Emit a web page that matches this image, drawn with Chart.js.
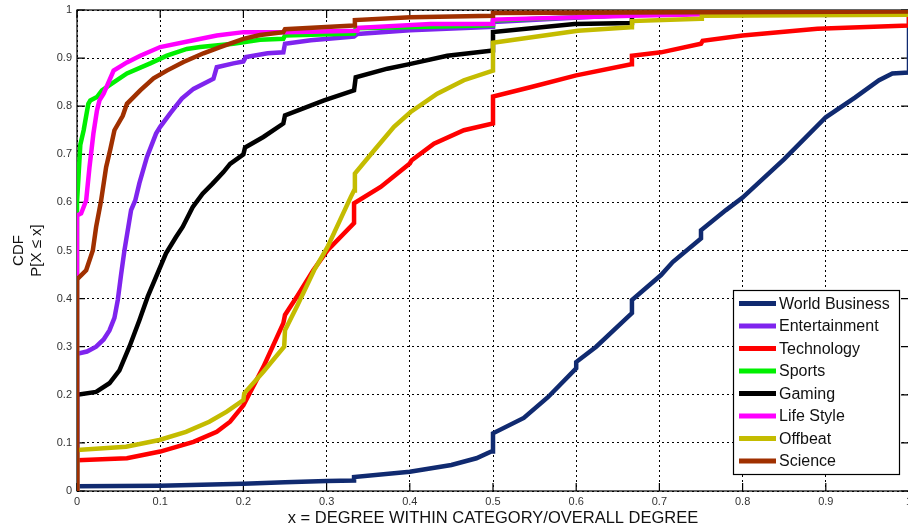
<!DOCTYPE html>
<html>
<head>
<meta charset="utf-8">
<title>CDF of degree within category / overall degree</title>
<script src="https://cdn.jsdelivr.net/npm/chart.js@4/dist/chart.umd.min.js"></script>
<style>
  html, body { margin: 0; padding: 0; background: #fff; overflow: hidden; }
  canvas { display: block; }
</style>
</head>
<body>
<canvas id="cdf" width="920" height="531"></canvas>
<script>
// Empirical CDF curves, one [x, P(X <= x)] list per category.
const seriesNames = ['World Business', 'Entertainment', 'Technology', 'Sports',
                     'Gaming', 'Life Style', 'Offbeat', 'Science'];
const seriesColors = ['#102a70', '#7f24ee', '#ff0000', '#00f000',
                      '#000000', '#ff00ff', '#c4bc00', '#a03000'];

const worldBusiness = [[0,0],[0,0.01],[0.1,0.011],[0.2,0.015],[0.25,0.018],[0.3,0.021],[0.333,0.022],[0.333,0.029],
  [0.4,0.04],[0.45,0.054],[0.48,0.068],[0.498,0.082],[0.5,0.082],[0.5,0.12],[0.537,0.152],[0.566,0.195],[0.6,0.255],
  [0.6,0.268],[0.624,0.30],[0.667,0.37],[0.667,0.397],[0.702,0.449],[0.716,0.476],[0.75,0.525],[0.75,0.542],
  [0.78,0.584],[0.8,0.61],[0.85,0.69],[0.9,0.777],[0.935,0.818],[0.964,0.854],[0.98,0.868],[1.0,0.87],[1.0,1.0]];

const entertainment = [[0,0],[0,0.285],[0.012,0.29],[0.023,0.30],[0.032,0.315],[0.039,0.334],[0.045,0.36],
  [0.049,0.397],[0.053,0.45],[0.057,0.50],[0.065,0.584],[0.07,0.604],[0.075,0.64],[0.084,0.694],[0.095,0.743],
  [0.1,0.757],[0.112,0.785],[0.126,0.816],[0.14,0.836],[0.164,0.857],[0.168,0.881],[0.188,0.889],[0.2,0.893],
  [0.203,0.902],[0.229,0.91],[0.248,0.912],[0.25,0.93],[0.281,0.937],[0.333,0.945],[0.337,0.95],[0.4,0.958],
  [0.5,0.965],[0.5,0.975],[0.667,0.99],[1,1]];

const technology = [[0,0],[0,0.064],[0.06,0.068],[0.1,0.082],[0.14,0.102],[0.168,0.123],[0.184,0.144],[0.2,0.178],
  [0.224,0.258],[0.248,0.349],[0.25,0.366],[0.265,0.406],[0.284,0.459],[0.301,0.50],[0.333,0.557],[0.333,0.598],
  [0.365,0.632],[0.4,0.681],[0.402,0.687],[0.429,0.722],[0.465,0.75],[0.5,0.764],[0.5,0.82],[0.546,0.84],
  [0.6,0.864],[0.666,0.887],[0.667,0.905],[0.702,0.912],[0.75,0.93],[0.752,0.936],[0.8,0.947],[0.89,0.961],
  [1,0.968],[1,1]];

const sports = [[0,0],[0,0.60],[0.002,0.66],[0.004,0.72],[0.008,0.75],[0.0136,0.805],[0.016,0.812],[0.024,0.819],
  [0.03,0.833],[0.04,0.845],[0.06,0.868],[0.088,0.889],[0.108,0.905],[0.132,0.919],[0.148,0.923],[0.188,0.93],
  [0.22,0.938],[0.248,0.94],[0.25,0.947],[0.333,0.951],[0.335,0.962],[0.5,0.968],[0.5,0.978],[0.667,0.99],[1,1]];

const gaming = [[0,0],[0,0.2],[0.023,0.206],[0.039,0.224],[0.051,0.251],[0.063,0.30],[0.075,0.355],[0.085,0.404],
  [0.095,0.445],[0.107,0.494],[0.119,0.528],[0.127,0.549],[0.139,0.59],[0.151,0.618],[0.163,0.639],[0.176,0.663],
  [0.184,0.68],[0.2,0.70],[0.202,0.714],[0.224,0.736],[0.248,0.764],[0.25,0.781],[0.297,0.812],[0.333,0.833],
  [0.335,0.86],[0.373,0.878],[0.401,0.888],[0.445,0.905],[0.5,0.916],[0.5,0.954],[0.598,0.971],[0.667,0.973],
  [0.667,0.99],[1,1]];

const lifeStyle = [[0,0],[0,0.573],[0.005,0.577],[0.011,0.604],[0.015,0.673],[0.0197,0.743],[0.024,0.791],
  [0.027,0.812],[0.032,0.826],[0.044,0.874],[0.06,0.891],[0.076,0.905],[0.1,0.923],[0.14,0.937],[0.168,0.947],
  [0.2,0.954],[0.25,0.954],[0.337,0.957],[0.338,0.963],[0.425,0.971],[0.5,0.971],[0.5,0.98],[0.667,0.988],[1,1]];

const offbeat = [[0,0],[0,0.085],[0.059,0.092],[0.099,0.106],[0.131,0.123],[0.159,0.144],[0.18,0.165],[0.2,0.189],
  [0.201,0.203],[0.224,0.248],[0.249,0.30],[0.25,0.334],[0.265,0.386],[0.285,0.459],[0.301,0.507],[0.329,0.611],
  [0.333,0.625],[0.334,0.66],[0.357,0.708],[0.381,0.757],[0.401,0.788],[0.433,0.826],[0.465,0.854],[0.5,0.874],
  [0.5,0.932],[0.602,0.957],[0.666,0.964],[0.667,0.977],[0.75,0.982],[0.751,0.988],[1,0.99],[1,1]];

const science = [[0,0],[0,0.44],[0.011,0.459],[0.019,0.50],[0.023,0.549],[0.029,0.604],[0.035,0.673],[0.04,0.71],
  [0.045,0.75],[0.055,0.78],[0.06,0.805],[0.076,0.833],[0.092,0.858],[0.108,0.874],[0.128,0.892],[0.152,0.91],
  [0.172,0.923],[0.2,0.94],[0.22,0.948],[0.248,0.954],[0.25,0.96],[0.333,0.968],[0.334,0.979],[0.401,0.985],
  [0.5,0.988],[0.5,0.994],[1,0.997]];

const seriesValues = [worldBusiness, entertainment, technology, sports, gaming, lifeStyle, offbeat, science];

const xTickLabels = ['0','0.1','0.2','0.3','0.4','0.5','0.6','0.7','0.8','0.9','1'];
const yTickLabels = ['0','0.1','0.2','0.3','0.4','0.5','0.6','0.7','0.8','0.9','1'];
const xTitle = 'x = DEGREE WITHIN CATEGORY/OVERALL DEGREE';
const yTitle = ['CDF', 'P[X \u2264 x]'];

const FONT = '"Liberation Sans", Arial, Helvetica, sans-serif';

// Solid frame with inward tick marks on all four sides, drawn beneath the curves.
const axesBox = {
  id: 'axesBox',
  beforeDatasetsDraw(chart) {
    const { ctx, chartArea: a, scales: { x, y } } = chart;
    const len = 8;
    ctx.save();
    ctx.strokeStyle = '#000';
    ctx.lineWidth = 1.2;
    ctx.strokeRect(a.left, a.top, a.right - a.left, a.bottom - a.top);
    ctx.beginPath();
    x.ticks.forEach(t => {
      const px = x.getPixelForValue(t.value);
      ctx.moveTo(px, a.bottom); ctx.lineTo(px, a.bottom - len);
      ctx.moveTo(px, a.top); ctx.lineTo(px, a.top + len);
    });
    y.ticks.forEach(t => {
      const py = y.getPixelForValue(t.value);
      ctx.moveTo(a.left, py); ctx.lineTo(a.left + len, py);
      ctx.moveTo(a.right, py); ctx.lineTo(a.right - len, py);
    });
    ctx.stroke();
    ctx.restore();
  }
};

// Boxed legend in the lower-right corner of the plot.
const boxLegend = {
  id: 'boxLegend',
  afterDraw(chart) {
    const { ctx, chartArea: a } = chart;
    const w = 166, h = 184;
    const left = a.right - 176, top = a.bottom - 201;
    ctx.save();
    ctx.fillStyle = '#fff';
    ctx.fillRect(left, top, w, h);
    ctx.strokeStyle = '#000';
    ctx.lineWidth = 1.2;
    ctx.strokeRect(left + 0.5, top + 0.5, w, h);
    ctx.font = '16px ' + FONT;
    ctx.textBaseline = 'middle';
    ctx.textAlign = 'left';
    chart.data.datasets.forEach((ds, i) => {
      const cy = top + 13.5 + i * 22.5;
      ctx.strokeStyle = ds.borderColor;
      ctx.lineWidth = 5;
      ctx.beginPath();
      ctx.moveTo(left + 6, cy);
      ctx.lineTo(left + 43, cy);
      ctx.stroke();
      ctx.fillStyle = '#111';
      ctx.fillText(ds.label, left + 46, cy + 1);
    });
    ctx.restore();
  }
};

const datasets = seriesNames.map((name, i) => ({
  label: name,
  data: seriesValues[i].map(([x, y]) => ({ x, y })),
  borderColor: seriesColors[i],
  backgroundColor: seriesColors[i],
  borderWidth: 4.5,
  pointRadius: 0,
  showLine: true,
  fill: false,
  tension: 0,
  order: seriesNames.length - i
}));

new Chart(document.getElementById('cdf'), {
  type: 'scatter',
  data: { datasets },
  options: {
    responsive: false,
    devicePixelRatio: 1,
    animation: false,
    layout: { padding: { left: 0, right: 11, top: 10, bottom: 0 } },
    plugins: { legend: { display: false }, tooltip: { enabled: false } },
    scales: {
      x: {
        type: 'linear', min: 0, max: 1,
        ticks: {
          stepSize: 0.1, autoSkip: false, maxRotation: 0, padding: 4,
          color: '#333', font: { family: FONT, size: 11 },
          callback: v => xTickLabels[Math.round(v * 10)]
        },
        grid: { color: '#000', lineWidth: 1, drawTicks: false },
        border: { display: false, dash: [2, 3] },
        title: {
          display: true, text: xTitle, color: '#111',
          font: { family: FONT, size: 16.5 }, padding: { top: 0, bottom: 3 }
        },
        afterFit(scale) { scale.height = 40; scale.paddingLeft = 0; scale.paddingRight = 0; }
      },
      y: {
        type: 'linear', min: 0, max: 1,
        ticks: {
          stepSize: 0.1, autoSkip: false, padding: 5,
          color: '#333', font: { family: FONT, size: 11 },
          callback: v => yTickLabels[Math.round(v * 10)]
        },
        grid: { color: '#000', lineWidth: 1, drawTicks: false },
        border: { display: false, dash: [2, 3] },
        title: {
          display: true, text: yTitle, color: '#111',
          font: { family: FONT, size: 15, lineHeight: 1.25 }, padding: { top: 9, bottom: 0 }
        },
        afterFit(scale) { scale.width = 77; scale.paddingTop = 0; scale.paddingBottom = 0; }
      }
    }
  },
  plugins: [axesBox, boxLegend]
});
</script>
</body>
</html>
